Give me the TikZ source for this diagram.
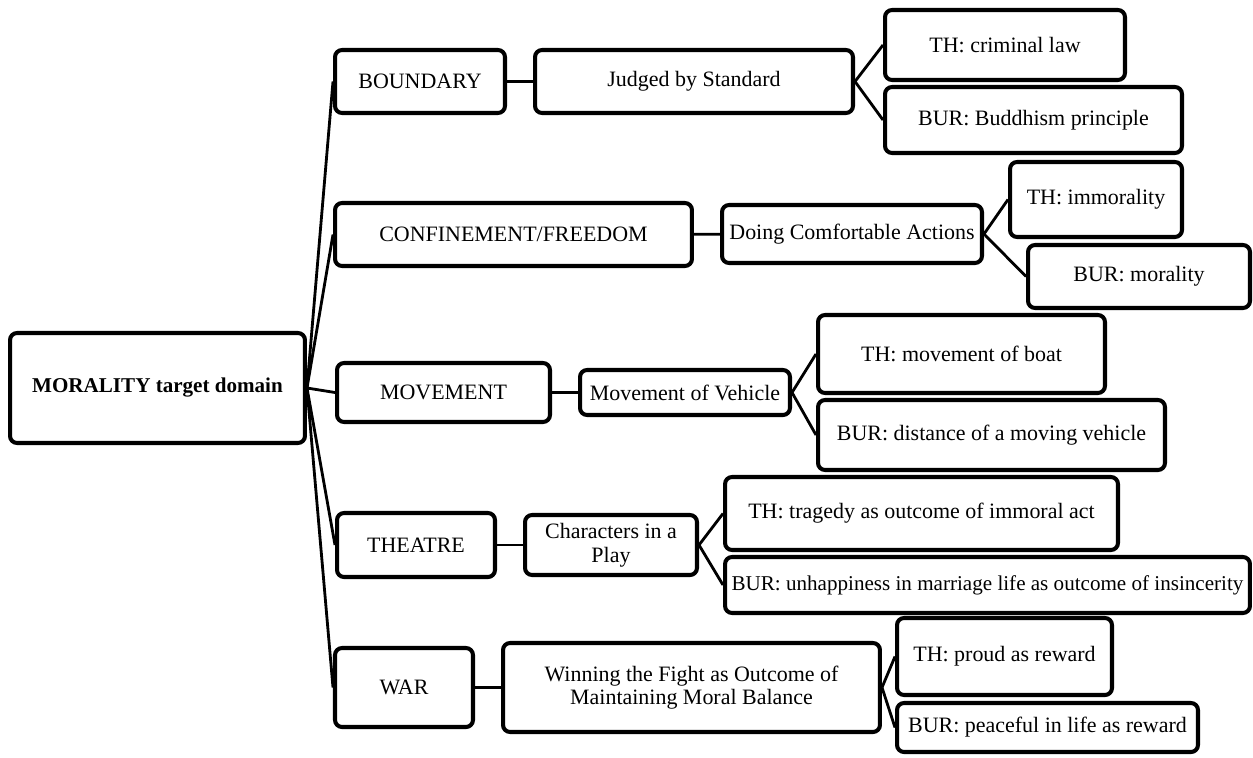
\documentclass[tikz,border=0pt]{standalone}
\usepackage{fontspec}
\setmainfont{Liberation Serif}
\usetikzlibrary{positioning,calc}

\begin{document}
\begin{tikzpicture}[x=0.02cm, y=-0.02cm,
    box/.style={draw, line width=2.3pt, rounded corners=4pt, align=center, inner sep=2pt,
        font=\fontsize{12.5}{13.5}\selectfont},
    link/.style={line width=1.6pt}]
\useasboundingbox (0,0) rectangle (1253,757);
% root
\node[box, font=\fontsize{12}{13}\selectfont\bfseries, minimum width=5.9cm, minimum height=2.2cm] (root) at (157.5,388) {MORALITY target domain};
% source domains
\node[box, minimum width=3.4cm, minimum height=1.26cm] (boundary) at (420,81.5) {BOUNDARY};
\node[box, minimum width=7.14cm, minimum height=1.26cm] (confine) at (513.5,234.5) {CONFINEMENT/FREEDOM};
\node[box, minimum width=4.26cm, minimum height=1.18cm] (movement) at (443.5,392.5) {MOVEMENT};
\node[box, minimum width=3.16cm, minimum height=1.28cm] (theatre) at (416,545) {THEATRE};
\node[box, minimum width=2.76cm, minimum height=1.58cm] (war) at (404,687.5) {WAR};
% mappings
\node[box, minimum width=6.36cm, minimum height=1.26cm] (judged) at (694,81.5) {Judged by Standard};
\node[box, minimum width=5.2cm, minimum height=1.16cm] (comfort) at (852,234) {Doing Comfortable Actions};
\node[box, minimum width=4.2cm, minimum height=0.9cm] (vehicle) at (685,392.5) {Movement of Vehicle};
\node[box, minimum width=3.44cm, minimum height=1.2cm] (play) at (611,545) {Characters in a\\Play};
\node[box, minimum width=7.54cm, minimum height=1.78cm] (fight) at (691.5,687.5) {Winning the Fight as Outcome of\\Maintaining Moral Balance};
% TH / BUR
\node[box, minimum width=4.8cm, minimum height=1.4cm] (thlaw) at (1005,45) {TH: criminal law};
\node[box, minimum width=5.94cm, minimum height=1.32cm] (burbud) at (1033.5,120) {BUR: Buddhism principle};
\node[box, minimum width=3.44cm, minimum height=1.5cm] (thimm) at (1096,199.5) {TH: immorality};
\node[box, minimum width=4.44cm, minimum height=1.26cm] (burmor) at (1139,276.5) {BUR: morality};
\node[box, minimum width=5.74cm, minimum height=1.56cm] (thboat) at (961.5,354) {TH: movement of boat};
\node[box, minimum width=6.94cm, minimum height=1.4cm] (burdist) at (991.5,435) {BUR: distance of a moving vehicle};
\node[box, minimum width=7.86cm, minimum height=1.46cm] (thtrag) at (921.5,513.5) {TH: tragedy as outcome of immoral act};
\node[box, font=\fontsize{12}{13}\selectfont, minimum width=10.5cm, minimum height=1.12cm, inner sep=0pt] (burunh) at (987.5,585) {BUR: unhappiness in marriage life as outcome of insincerity};
\node[box, minimum width=4.3cm, minimum height=1.54cm] (thproud) at (1004.5,656.5) {TH: proud as reward};
\node[box, minimum width=6.02cm, minimum height=0.98cm] (burpeace) at (1047.5,727.5) {BUR: peaceful in life as reward};
% connectors
\draw[link] (root.east) -- (boundary.west);
\draw[link] (root.east) -- (confine.west);
\draw[link] (root.east) -- (movement.west);
\draw[link] (root.east) -- (theatre.west);
\draw[link] (root.east) -- (war.west);
\draw[link] (boundary) -- (judged);
\draw[link] (confine) -- (comfort);
\draw[link] (movement) -- (vehicle);
\draw[link] (theatre) -- (play);
\draw[link] (war) -- (fight);
\draw[link] (judged.east) -- (thlaw.west);
\draw[link] (judged.east) -- (burbud.west);
\draw[link] (comfort.east) -- (thimm.west);
\draw[link] (comfort.east) -- (burmor.west);
\draw[link] (vehicle.east) -- (thboat.west);
\draw[link] (vehicle.east) -- (burdist.west);
\draw[link] (play.east) -- (thtrag.west);
\draw[link] (play.east) -- (burunh.west);
\draw[link] (fight.east) -- (thproud.west);
\draw[link] (fight.east) -- (burpeace.west);
\end{tikzpicture}
\end{document}
